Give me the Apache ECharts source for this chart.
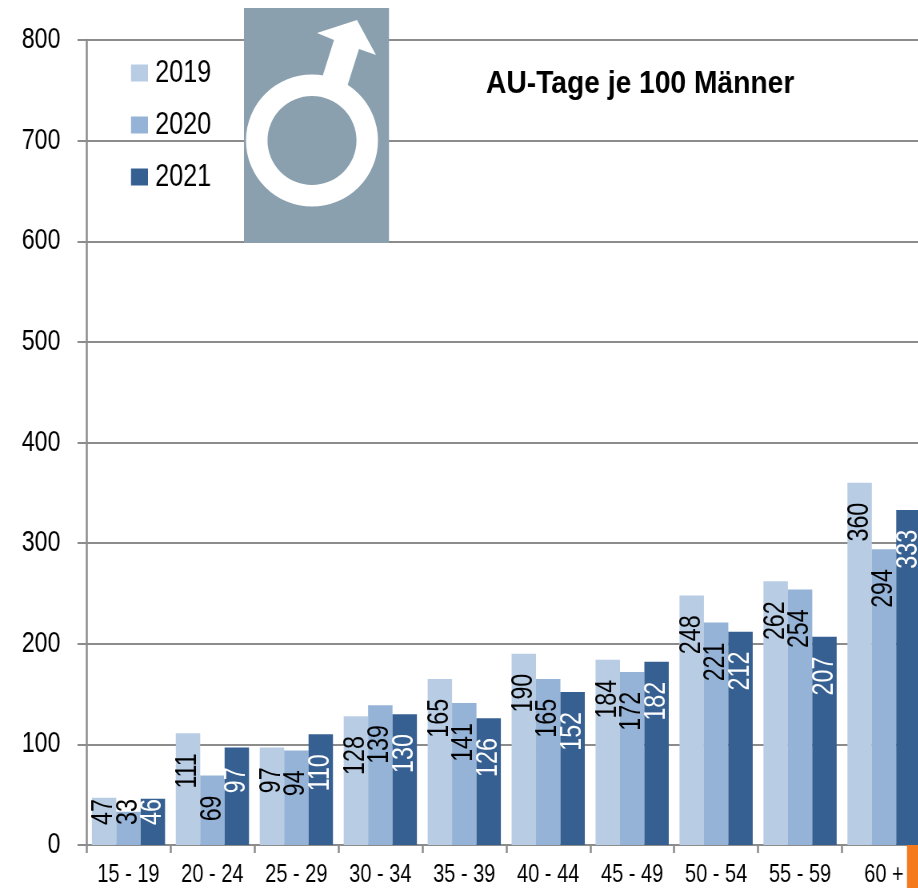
<!DOCTYPE html>
<html><head><meta charset="utf-8">
<style>html,body{margin:0;padding:0;background:#fff;overflow:hidden;width:918px;height:888px}
#c{width:1148px;height:888px;transform:scaleX(0.8);transform-origin:0 0}</style>
<script src="https://cdn.jsdelivr.net/npm/echarts@6/dist/echarts.min.js"></script>
</head><body><div id="c"></div>
<script>
const categories = ['15 - 19','20 - 24','25 - 29','30 - 34','35 - 39','40 - 44','45 - 49','50 - 54','55 - 59','60 +'];
const years = ['2019','2020','2021'];
const v2019 = [47,111,97,128,165,190,184,248,262,360];
const v2020 = [33,69,94,139,141,165,172,221,254,294];
const v2021 = [46,97,110,130,126,152,182,212,207,333];
const S = 0.8;                 // the reference's text is horizontally condensed
const px = n => n / S;
const FONT = '"Liberation Sans",Arial,sans-serif';
const GREY = '#8c8c8c';
const BAR = px(24.4);
function bars(name, values, color){
  return {name, type:'bar', barWidth:BAR, barGap:0, itemStyle:{color}, data:values};
}
function labels(name, values, idx, fill){
  return {
    name:name+' Werte', type:'custom', silent:true, z:5, clip:false,
    encode:{x:0,y:1},
    data:values.map((v,i)=>[i,v]),
    renderItem(params, api){
      const v = api.value(1);
      const p = api.coord([api.value(0), v]);
      const base = api.coord([api.value(0), 0]);
      const small = v < 60;
      return {
        type:'text',
        x:p[0]+(idx-1)*BAR,
        y:small ? base[1]-20 : p[1]+20,
        rotation:Math.PI/2, scaleX:0.8, scaleY:1/S,
        style:{text:String(v), fill, fontFamily:FONT, fontSize:29,
          align:small?'left':'right', textAlign:small?'left':'right',
          verticalAlign:'middle', textVerticalAlign:'middle'}
      };
    }
  };
}
const chart = echarts.init(document.getElementById('c'),null,{renderer:'canvas'});
chart.setOption({
  animation:false,
  backgroundColor:'#fff',
  textStyle:{fontFamily:FONT},
  legend:{orient:'vertical',left:px(131),top:57,padding:0,itemWidth:px(17),itemHeight:17,itemGap:20,icon:'rect',
    textStyle:{fontFamily:FONT,fontSize:31.5,color:'#000',padding:[0,0,0,4]},
    data:years},
  grid:{left:px(86.5),top:40,width:px(839.5),height:805,containLabel:false,outerBoundsMode:'none'},
  xAxis:{type:'category',data:categories,
    axisLine:{lineStyle:{color:GREY,width:2}},
    axisTick:{show:true,length:8,lineStyle:{color:GREY,width:2.5}},
    axisLabel:{color:'#000',fontFamily:FONT,fontSize:25,margin:18,interval:0}},
  yAxis:{type:'value',min:0,max:800,interval:100,
    axisLine:{show:true,lineStyle:{color:GREY,width:2.5}},
    axisTick:{show:true,length:px(9),lineStyle:{color:GREY,width:2}},
    axisLabel:{color:'#000',fontFamily:FONT,fontSize:29,margin:px(26)},
    splitLine:{show:true,lineStyle:{color:GREY,width:2}}},
  series:[
    bars(years[0],v2019,'#b8cce4'),bars(years[1],v2020,'#95b3d7'),bars(years[2],v2021,'#376092'),
    labels(years[0],v2019,0,'#000'),labels(years[1],v2020,1,'#000'),labels(years[2],v2021,2,'#fff')
  ],
  graphic:[{type:'group',scaleX:1/S,z:50,children:[
    {type:'rect',z:50,shape:{x:244,y:8,width:145,height:235},style:{fill:'#8aa0ae'}},
    {type:'polygon',z:51,shape:{points:[[317,33],[357,20],[376,55],[359,49],[347,87],[322,78],[334,40]]},style:{fill:'#fff'}},
    {type:'ring',z:51,shape:{cx:312,cy:140.5,r:66,r0:44.5},style:{fill:'#fff'}},
    {type:'rect',z:50,shape:{x:907,y:845,width:12,height:43},style:{fill:'#f47a1c'}},
    {type:'text',z:52,x:486,y:84,scaleX:0.91,style:{text:'AU-Tage je 100 Männer',fontFamily:FONT,fontSize:31,fontWeight:'bold',fill:'#000',verticalAlign:'middle',textVerticalAlign:'middle'}}
  ]}]
});
</script></body></html>
